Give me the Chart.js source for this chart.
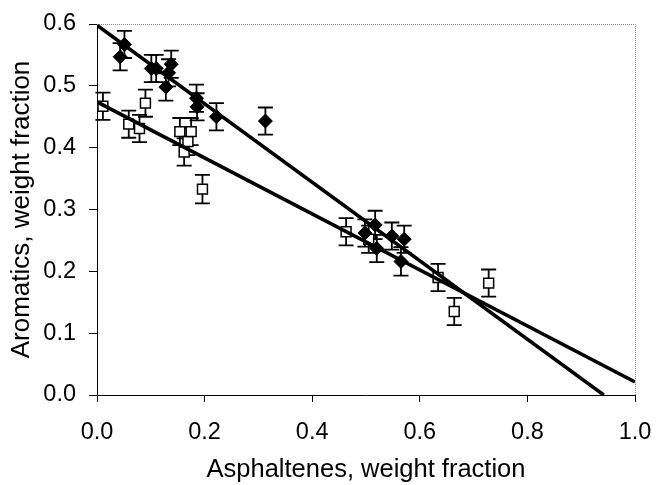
<!DOCTYPE html>
<html>
<head>
<meta charset="utf-8">
<script src="https://cdn.jsdelivr.net/npm/chart.js@4.4.1/dist/chart.umd.min.js"></script>
<style>
  html, body { margin: 0; padding: 0; background: #fff; }
  #wrap { width: 657px; height: 485px; position: relative; }
</style>
</head>
<body>
<div id="wrap"><canvas id="chart"></canvas></div>
<script>
// Aromatics vs asphaltenes, two sample sets with error bars and linear fits

const diamondX = [0.043, 0.051, 0.101, 0.110, 0.128, 0.133, 0.138, 0.185, 0.186, 0.222, 0.313, 0.498, 0.517, 0.520, 0.548, 0.565, 0.571];
const diamondY = [0.547, 0.567, 0.528, 0.528, 0.498, 0.521, 0.535, 0.480, 0.466, 0.450, 0.443, 0.262, 0.275, 0.237, 0.257, 0.216, 0.252];
const diamondErr = [0.022, 0.022, 0.022, 0.022, 0.022, 0.022, 0.022, 0.022, 0.022, 0.022, 0.022, 0.022, 0.023, 0.022, 0.022, 0.023, 0.022];

const squareX = [0.011, 0.059, 0.079, 0.090, 0.154, 0.162, 0.169, 0.175, 0.196, 0.463, 0.505, 0.634, 0.664, 0.728];
const squareY = [0.467, 0.438, 0.431, 0.472, 0.426, 0.393, 0.410, 0.426, 0.333, 0.264, 0.252, 0.190, 0.135, 0.181];
const squareErr = [0.022, 0.022, 0.022, 0.022, 0.022, 0.022, 0.022, 0.022, 0.023, 0.022, 0.022, 0.022, 0.022, 0.022];

// fitted lines (end points)
const diamondFitX = [0, 0.942];
const diamondFitY = [0.598, 0];
const squareFitX = [0, 1.0];
const squareFitY = [0.474, 0.021];

const xTicks = [0, 0.2, 0.4, 0.6, 0.8, 1.0];
const yTicks = [0, 0.1, 0.2, 0.3, 0.4, 0.5, 0.6];

function toPoints(xs, ys) {
    return xs.map(function (x, i) { return { x: x, y: ys[i] }; });
}

const FONT = '"Liberation Sans", Arial, sans-serif';

// error bars, drawn before the markers
const errorBars = {
    id: 'errorBars',
    beforeDatasetsDraw: function (chart) {
        const ctx = chart.ctx;
        const xs = chart.scales.x, ys = chart.scales.y;
        const sets = [[diamondX, diamondY, diamondErr], [squareX, squareY, squareErr]];
        ctx.save();
        ctx.strokeStyle = '#000';
        ctx.lineWidth = 1.8;
        sets.forEach(function (s) {
            s[0].forEach(function (x, i) {
                const px = xs.getPixelForValue(x);
                const top = ys.getPixelForValue(s[1][i] + s[2][i]);
                const bot = ys.getPixelForValue(s[1][i] - s[2][i]);
                ctx.beginPath();
                ctx.moveTo(px, top); ctx.lineTo(px, bot);
                ctx.moveTo(px - 7.5, top); ctx.lineTo(px + 7.5, top);
                ctx.moveTo(px - 7.5, bot); ctx.lineTo(px + 7.5, bot);
                ctx.stroke();
            });
        });
        ctx.restore();
    }
};

// dotted grey frame on top and right
const frame = {
    id: 'frame',
    afterDraw: function (chart) {
        const a = chart.chartArea;
        const ctx = chart.ctx;
        ctx.save();
        ctx.strokeStyle = '#888';
        ctx.lineWidth = 1;
        ctx.setLineDash([1, 1]);
        ctx.beginPath();
        ctx.moveTo(a.left, a.top + 0.5);
        ctx.lineTo(a.right + 0.5, a.top + 0.5);
        ctx.lineTo(a.right + 0.5, a.bottom);
        ctx.stroke();
        ctx.restore();
    }
};

new Chart(document.getElementById('chart'), {
    type: 'scatter',
    data: {
        datasets: [
            {
                type: 'line',
                data: toPoints(diamondFitX, diamondFitY),
                borderColor: '#000',
                borderWidth: 3.5,
                pointRadius: 0,
                fill: false,
                order: 0
            },
            {
                type: 'line',
                data: toPoints(squareFitX, squareFitY),
                borderColor: '#000',
                borderWidth: 3.5,
                pointRadius: 0,
                fill: false,
                order: 0
            },
            {
                data: toPoints(diamondX, diamondY),
                pointStyle: 'rectRot',
                pointRadius: 7,
                backgroundColor: '#000',
                borderColor: '#000',
                borderWidth: 1,
                order: 1
            },
            {
                data: toPoints(squareX, squareY),
                pointStyle: 'rect',
                pointRadius: 7,
                backgroundColor: '#fff',
                borderColor: '#000',
                borderWidth: 1.5,
                order: 1
            }
        ]
    },
    options: {
        responsive: true,
        maintainAspectRatio: false,
        animation: false,
        layout: { padding: { top: 24, right: 22, left: 0, bottom: 0 } },
        plugins: {
            legend: { display: false },
            tooltip: { enabled: false }
        },
        scales: {
            x: {
                type: 'linear',
                min: 0,
                max: 1,
                afterFit: function (s) { s.height = 90; s.paddingLeft = 0; s.paddingRight = 0; },
                afterBuildTicks: function (s) { s.ticks = xTicks.map(function (v) { return { value: v }; }); },
                ticks: {
                    color: '#000',
                    font: { family: FONT, size: 23.5 },
                    padding: 16,
                    maxRotation: 0,
                    callback: function (v) { return Number(v).toFixed(1); }
                },
                grid: { drawOnChartArea: false, drawTicks: true, tickLength: 7, color: '#000' },
                border: { color: '#000', width: 1 },
                title: {
                    display: true,
                    text: 'Asphaltenes, weight fraction',
                    color: '#000',
                    font: { family: FONT, size: 25.5 },
                    padding: { top: 0, bottom: 0 }
                }
            },
            y: {
                type: 'linear',
                min: 0,
                max: 0.6,
                afterFit: function (s) { s.width = 97; s.paddingTop = 0; s.paddingBottom = 0; },
                afterBuildTicks: function (s) { s.ticks = yTicks.map(function (v) { return { value: v }; }); },
                ticks: {
                    color: '#000',
                    font: { family: FONT, size: 23.5 },
                    padding: 13,
                    callback: function (v) { return Number(v).toFixed(1); }
                },
                grid: { drawOnChartArea: false, drawTicks: true, tickLength: 8, color: '#000' },
                border: { color: '#000', width: 1 },
                title: {
                    display: true,
                    text: 'Aromatics, weight fraction',
                    color: '#000',
                    font: { family: FONT, size: 26 },
                    padding: { top: 6, bottom: 0 }
                }
            }
        }
    },
    plugins: [errorBars, frame]
});
</script>
</body>
</html>
